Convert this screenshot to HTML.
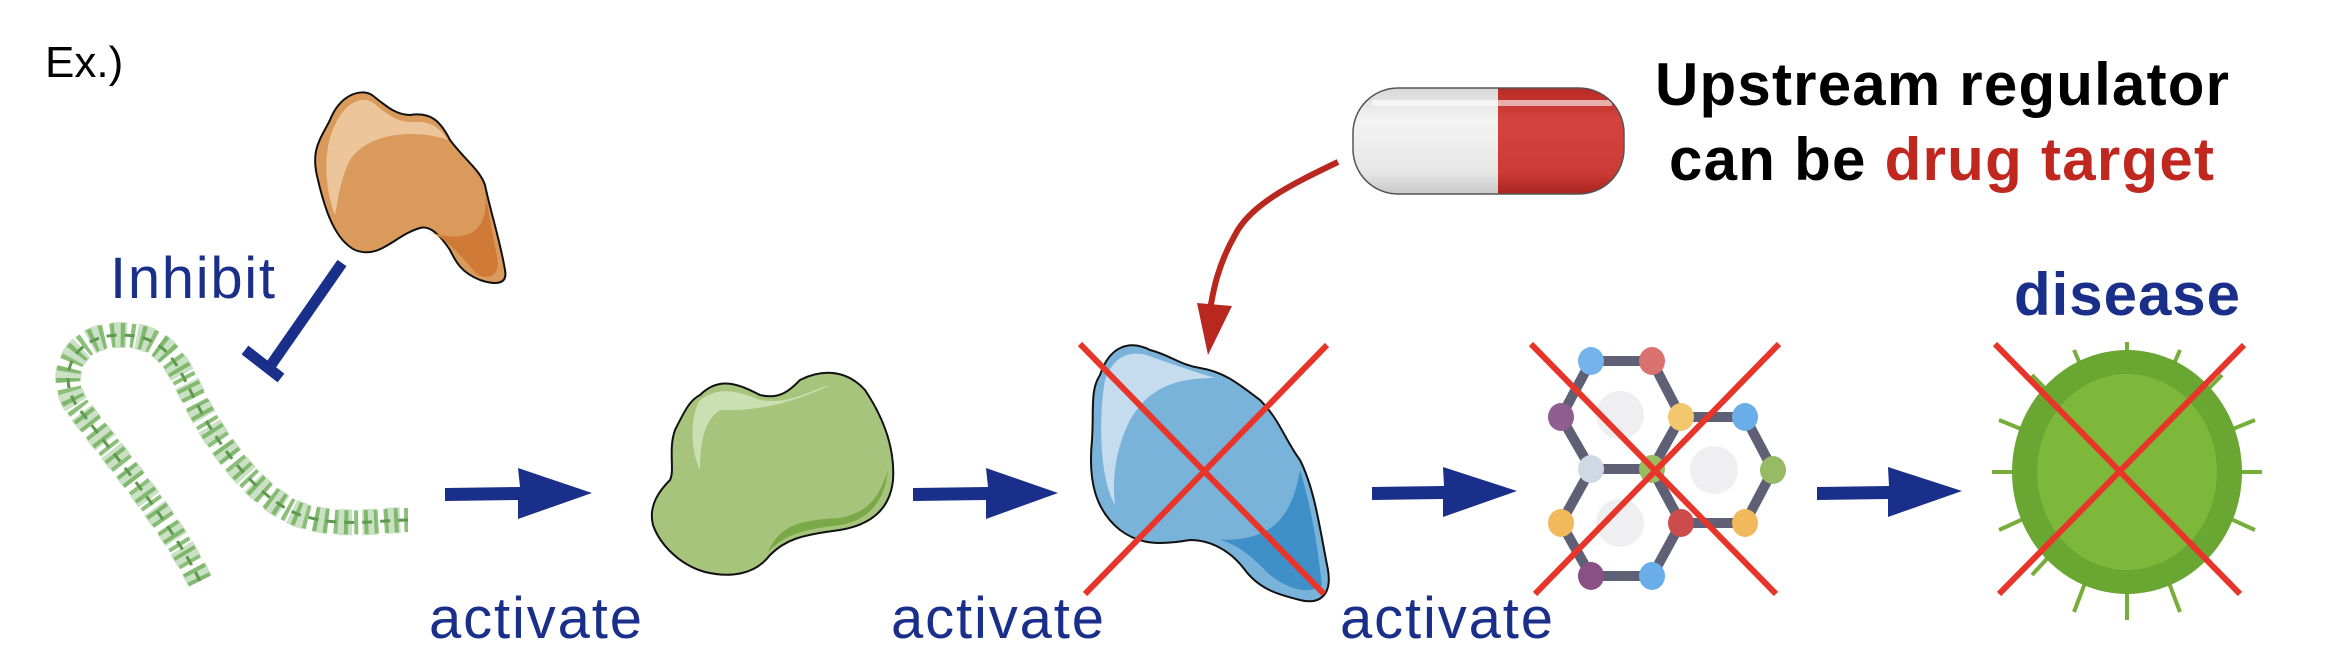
<!DOCTYPE html>
<html><head><meta charset="utf-8"><style>html,body{margin:0;padding:0;background:#fff}svg{display:block}</style></head>
<body>
<svg width="2328" height="670" viewBox="0 0 2328 670" xmlns="http://www.w3.org/2000/svg" font-family="Liberation Sans, Arial, sans-serif">
<defs>
<linearGradient id="pw" x1="0" y1="0" x2="0" y2="1"><stop offset="0" stop-color="#d8d8d8"/><stop offset="0.3" stop-color="#f4f4f4"/><stop offset="0.8" stop-color="#e6e6e6"/><stop offset="1" stop-color="#c8c8c8"/></linearGradient>
<linearGradient id="pr" x1="0" y1="0" x2="0" y2="1"><stop offset="0" stop-color="#b82a25"/><stop offset="0.3" stop-color="#d4433d"/><stop offset="0.8" stop-color="#cc3b35"/><stop offset="1" stop-color="#a8241f"/></linearGradient>
<clipPath id="pc"><rect x="1353" y="88" width="271" height="106" rx="45"/></clipPath>
</defs>
<text x="45" y="77" font-size="44">Ex.)</text>

<!-- orange blob -->
<path d="M330,120 C340,95 360,88 372,95 C385,105 395,115 410,115 C430,112 440,120 450,140 C465,160 480,170 485,185 C490,210 500,240 505,270 C508,285 495,285 480,280 C460,272 455,260 450,250 C440,235 430,225 420,228 C395,235 380,260 355,250 C335,240 325,210 318,180 C310,150 320,140 330,120 Z" fill="#d99a5c" stroke="#111" stroke-width="2"/>
<path d="M335,125 C345,102 362,96 372,102 C385,112 395,122 412,122 C430,120 440,128 448,140 C420,130 370,130 350,160 C340,180 338,200 335,215 C325,190 322,150 335,125 Z" fill="#edc59b"/>
<path d="M430,232 C450,240 465,262 478,275 C490,280 498,275 498,262 C492,230 488,210 485,190 C490,230 470,245 430,232 Z" fill="#cf7a36"/>

<!-- inhibit -->
<text x="110" y="298" font-size="58" fill="#1a2f8a" textLength="165">Inhibit</text>
<line x1="342" y1="263" x2="271" y2="365" stroke="#1a2f8a" stroke-width="11"/>
<line x1="245" y1="350" x2="281" y2="378" stroke="#1a2f8a" stroke-width="11"/>

<!-- DNA -->
<path d="M200,581 C170,520 110,450 80,410 C55,380 70,335 120,335 C165,335 175,360 195,400 C220,450 260,500 300,515 C340,528 380,520 408,520" fill="none" stroke="#8cc07a" stroke-width="24" stroke-dasharray="4 6"/>
<path d="M200,581 C170,520 110,450 80,410 C55,380 70,335 120,335 C165,335 175,360 195,400 C220,450 260,500 300,515 C340,528 380,520 408,520" fill="none" stroke="#6aa85a" stroke-width="26" stroke-dasharray="14 10" opacity="0.35"/>
<path d="M200,581 C170,520 110,450 80,410 C55,380 70,335 120,335 C165,335 175,360 195,400 C220,450 260,500 300,515 C340,528 380,520 408,520" fill="none" stroke="#5e9a4e" stroke-width="3" stroke-dasharray="10 8"/>

<!-- arrows -->
<g fill="#1a2f8a">
<path d="M445,488 L520,487 L518,468 L592,493 L518,519 L518,500 L445,501 Z"/>
<path d="M913,488 L988,487 L986,468 L1058,493 L986,519 L986,500 L913,501 Z"/>
<path d="M1372,487 L1444,486 L1443,467 L1517,491 L1443,517 L1443,499 L1372,500 Z"/>
<path d="M1817,487 L1889,486 L1888,467 L1962,491 L1888,517 L1888,499 L1817,500 Z"/>
</g>
<g font-size="58" fill="#1a2f8a">
<text x="429" y="638" textLength="213">activate</text>
<text x="891" y="638" textLength="213">activate</text>
<text x="1340" y="638" textLength="213">activate</text>
</g>

<!-- green blob -->
<path d="M700,395 C720,375 740,385 760,395 C780,400 790,390 800,380 C820,370 845,368 865,390 C885,420 895,450 893,480 C890,510 870,525 840,530 C800,535 785,540 770,555 C755,575 730,578 705,572 C680,565 660,545 653,525 C648,505 660,490 670,480 C675,470 668,450 675,430 C685,410 690,400 700,395 Z" fill="#a6c47c" stroke="#111" stroke-width="2"/>
<path d="M700,400 C720,385 740,392 760,400 C790,405 810,390 830,385 C800,400 760,412 720,410 C705,420 700,440 700,470 C690,450 690,415 700,400 Z" fill="#cadfb2"/>
<path d="M888,470 C885,500 870,520 840,525 C800,530 785,535 768,552 C780,525 800,520 840,518 C870,512 880,495 888,470 Z" fill="#7aaa48"/>

<!-- blue blob -->
<path d="M1100,375 C1110,345 1130,340 1150,350 C1170,355 1180,365 1200,368 C1225,372 1240,385 1260,400 C1280,420 1285,440 1300,460 C1315,490 1320,530 1328,570 C1332,595 1320,605 1300,600 C1280,595 1260,590 1245,570 C1230,550 1210,540 1190,540 C1160,545 1140,545 1120,530 C1095,510 1088,480 1092,440 C1094,410 1090,390 1100,375 Z" fill="#7ab3da" stroke="#111" stroke-width="2"/>
<path d="M1105,380 C1115,352 1135,350 1152,357 C1175,365 1195,372 1215,378 C1180,378 1150,385 1130,420 C1115,450 1112,480 1115,505 C1100,480 1098,420 1105,380 Z" fill="#c5dcef"/>
<path d="M1300,470 C1312,510 1318,550 1322,585 C1310,595 1290,590 1270,575 C1255,560 1240,545 1220,540 C1260,540 1290,530 1300,470 Z" fill="#3f8fc8"/>
<g stroke="#e8352a" stroke-width="6"><line x1="1080" y1="344" x2="1324" y2="594"/><line x1="1327" y1="345" x2="1085" y2="594"/></g>

<!-- pill -->
<g clip-path="url(#pc)">
<rect x="1353" y="88" width="146" height="106" fill="url(#pw)"/>
<rect x="1498" y="88" width="126" height="106" fill="url(#pr)"/>
<rect x="1372" y="100" width="240" height="6" fill="#fff" opacity="0.6"/>
</g>
<rect x="1353" y="88" width="271" height="106" rx="45" fill="none" stroke="#555" stroke-width="1.5"/>

<!-- red curved arrow -->
<path d="M1338,162 C1290,185 1250,205 1235,235 C1215,270 1212,300 1210,310" fill="none" stroke="#b8281f" stroke-width="6"/>
<path d="M1197,303 L1232,306 L1208,355 Z" fill="#b8281f"/>

<!-- text -->
<g font-weight="bold" font-size="60">
<text x="1655" y="105" textLength="574">Upstream regulator</text>
<text x="1669" y="180" textLength="545">can be <tspan fill="#c0281f">drug target</tspan></text>
<text x="2014" y="315" fill="#1a2f8a" textLength="226">disease</text>
</g>

<!-- molecule -->
<g fill="#efeff1"><circle cx="1620" cy="415" r="24"/><circle cx="1714" cy="470" r="24"/><circle cx="1620" cy="523" r="24"/></g>
<g stroke="#5f5f75" stroke-width="10" fill="none">
<polygon points="1591,361 1652,361 1681,417 1652,469 1591,469 1561,417"/>
<polygon points="1681,417 1745,417 1773,470 1745,523 1681,523 1652,469"/>
<polygon points="1591,469 1652,469 1681,523 1652,576 1591,576 1561,523"/>
</g>
<g>
<ellipse cx="1591" cy="361" rx="13" ry="14" fill="#74b3ec"/>
<ellipse cx="1652" cy="361" rx="13" ry="14" fill="#d9716f"/>
<ellipse cx="1561" cy="417" rx="13" ry="14" fill="#8e5e8e"/>
<ellipse cx="1681" cy="417" rx="13" ry="14" fill="#f2c76e"/>
<ellipse cx="1745" cy="417" rx="13" ry="14" fill="#6aaee9"/>
<ellipse cx="1591" cy="469" rx="13" ry="14" fill="#cfd9e4"/>
<ellipse cx="1652" cy="469" rx="13" ry="14" fill="#9abd5f"/>
<ellipse cx="1773" cy="470" rx="13" ry="14" fill="#97bb65"/>
<ellipse cx="1561" cy="523" rx="13" ry="14" fill="#f1b95c"/>
<ellipse cx="1681" cy="523" rx="13" ry="14" fill="#cb4c4a"/>
<ellipse cx="1745" cy="523" rx="13" ry="14" fill="#f1b95c"/>
<ellipse cx="1591" cy="576" rx="13" ry="14" fill="#8a4f84"/>
<ellipse cx="1652" cy="576" rx="13" ry="14" fill="#6aaee9"/>
</g>
<g stroke="#e8352a" stroke-width="6"><line x1="1531" y1="344" x2="1776" y2="594"/><line x1="1779" y1="344" x2="1535" y2="594"/></g>

<!-- virus -->
<g stroke="#77ad3a" stroke-width="4">
<line x1="2127" y1="472" x2="2127" y2="342"/><line x1="2127" y1="472" x2="2127" y2="620"/>
<line x1="2127" y1="472" x2="2262" y2="472"/><line x1="2127" y1="472" x2="1992" y2="472"/>
<line x1="2127" y1="472" x2="2222" y2="375"/><line x1="2127" y1="472" x2="2032" y2="375"/>
<line x1="2127" y1="472" x2="2222" y2="575"/><line x1="2127" y1="472" x2="2032" y2="575"/>
<line x1="2127" y1="472" x2="2180" y2="350"/><line x1="2127" y1="472" x2="2074" y2="350"/>
<line x1="2127" y1="472" x2="2180" y2="612"/><line x1="2127" y1="472" x2="2074" y2="612"/>
<line x1="2127" y1="472" x2="2255" y2="420"/><line x1="2127" y1="472" x2="1999" y2="420"/>
<line x1="2127" y1="472" x2="2255" y2="530"/><line x1="2127" y1="472" x2="1999" y2="530"/>
</g>
<ellipse cx="2127" cy="472" rx="115" ry="122" fill="#6aa632"/>
<ellipse cx="2127" cy="472" rx="90" ry="98" fill="#7db83a"/>
<g stroke="#e8352a" stroke-width="6"><line x1="1995" y1="344" x2="2240" y2="594"/><line x1="2244" y1="345" x2="1999" y2="594"/></g>
</svg>
</body></html>
